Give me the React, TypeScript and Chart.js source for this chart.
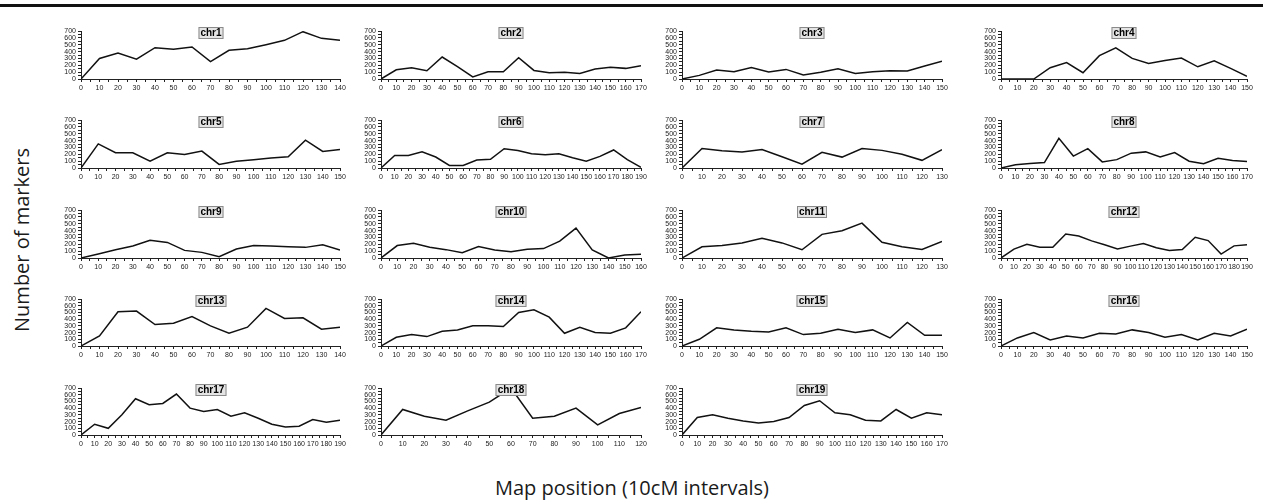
import React, { useEffect, useRef } from 'react';
import { Chart, registerables } from 'chart.js';
Chart.register(...registerables);

// Number of markers per 10cM interval, one array per chromosome
const chr1 = [0, 300, 380, 290, 457, 433, 467, 253, 418, 442, 500, 564, 690, 593, 564];
const chr2 = [0, 135, 165, 120, 320, 180, 30, 105, 105, 310, 125, 92, 100, 82, 145, 170, 155, 195];
const chr3 = [0, 53, 130, 106, 169, 101, 140, 58, 97, 150, 82, 106, 120, 116, 190, 260];
const chr4 = [0, 0, 0, 165, 240, 92, 340, 455, 300, 228, 270, 305, 178, 266, 155, 40];
const chr5 = [0, 352, 222, 222, 101, 222, 198, 246, 53, 97, 121, 145, 164, 406, 241, 270];
const chr6 = [0, 183, 183, 235, 160, 38, 38, 117, 127, 282, 254, 207, 193, 207, 150, 99, 169, 263, 122, 10];
const chr7 = [0, 285, 252, 233, 270, 163, 56, 229, 159, 285, 257, 200, 112, 266];
const chr8 = [0, 47, 66, 80, 433, 174, 282, 89, 122, 216, 235, 160, 226, 99, 61, 141, 108, 94];
const chr9 = [0, 58, 120, 174, 260, 227, 111, 82, 20, 130, 183, 174, 164, 155, 193, 116];
const chr10 = [0, 181, 216, 157, 122, 78, 167, 118, 93, 127, 137, 245, 436, 118, 0, 44, 54];
const chr11 = [0, 163, 182, 220, 288, 220, 120, 345, 398, 508, 230, 163, 125, 240];
const chr12 = [0, 130, 201, 158, 158, 350, 321, 250, 192, 130, 173, 211, 149, 110, 125, 302, 254, 58, 177, 192];
const chr13 = [0, 150, 510, 520, 320, 340, 440, 300, 190, 280, 560, 410, 420, 250, 280];
const chr14 = [0, 130, 170, 140, 220, 240, 300, 300, 290, 500, 540, 430, 190, 280, 200, 190, 270, 510];
const chr15 = [0, 100, 270, 240, 220, 210, 270, 170, 190, 250, 200, 240, 120, 350, 160, 160];
const chr16 = [0, 120, 200, 90, 150, 120, 190, 180, 240, 200, 130, 170, 90, 190, 150, 250];
const chr17 = [0, 160, 100, 300, 540, 450, 470, 610, 400, 350, 380, 280, 330, 250, 160, 120, 130, 230, 190, 220];
const chr18 = [0, 380, 280, 220, 360, 490, 700, 250, 280, 400, 150, 320, 410];
const chr19 = [0, 260, 300, 250, 210, 180, 200, 260, 440, 510, 330, 300, 220, 210, 380, 250, 330, 300];

const chromosomeNames = [
  'chr1', 'chr2', 'chr3', 'chr4', 'chr5', 'chr6', 'chr7', 'chr8', 'chr9', 'chr10',
  'chr11', 'chr12', 'chr13', 'chr14', 'chr15', 'chr16', 'chr17', 'chr18', 'chr19',
];
const chromosomeValues = [
  chr1, chr2, chr3, chr4, chr5, chr6, chr7, chr8, chr9, chr10,
  chr11, chr12, chr13, chr14, chr15, chr16, chr17, chr18, chr19,
];

const intervalCM = 10;
const yMax = 700;
const yLabelStep = 100;

const yAxisTitle = 'Number of markers';
const xAxisTitle = 'Map position (10cM intervals)';

// layout (page pixels)
const COLS = [
  { x0: 81, x1: 340 },
  { x0: 381, x1: 641 },
  { x0: 682, x1: 942 },
  { x0: 1001, x1: 1247 },
];
const ROWS = [
  { top: 31, bottom: 79 },
  { top: 120, bottom: 168 },
  { top: 210, bottom: 258 },
  { top: 299, bottom: 346 },
  { top: 388, bottom: 435 },
];
const YW = 24;
const PT = 8;
const PR = 12;
const XH = 16;

const tickFamily = '"Liberation Sans", Arial, sans-serif';

const titleBoxPlugin = {
  id: 'titleBox',
  afterDatasetsDraw(chart: any, _args: any, opts: any) {
    const { ctx, chartArea } = chart;
    const text = opts.text as string;
    if (!text) return;
    ctx.save();
    ctx.font = 'bold 10px "Liberation Sans", Arial, sans-serif';
    const w = Math.round(ctx.measureText(text).width + 4);
    const h = 12;
    const cx = Math.round((chartArea.left + chartArea.right) / 2);
    const y = Math.round(chartArea.top - 4);
    ctx.fillStyle = '#e4e4e4';
    ctx.fillRect(cx - w / 2, y, w, h);
    ctx.strokeStyle = '#8a8a8a';
    ctx.lineWidth = 1;
    ctx.strokeRect(cx - w / 2 + 0.5, y + 0.5, w - 1, h - 1);
    ctx.fillStyle = '#000';
    ctx.textAlign = 'center';
    ctx.textBaseline = 'middle';
    ctx.fillText(text, cx, y + h / 2 + 0.5);
    ctx.restore();
  },
};

function Panel({ name, values, col, row }: { name: string; values: number[]; col: number; row: number }) {
  const ref = useRef<HTMLCanvasElement | null>(null);
  const c = COLS[col];
  const r = ROWS[row];
  const plotW = c.x1 - c.x0;
  const plotH = r.bottom - r.top;
  const width = YW + plotW + PR;
  const height = PT + plotH + XH;
  const left = c.x0 - YW;
  const top = r.top - PT;

  useEffect(() => {
    if (!ref.current) return;
    const xMax = (values.length - 1) * intervalCM;
    const xTicks: number[] = [];
    for (let v = 0; v <= xMax; v += intervalCM / 2) xTicks.push(v);
    const yTicks: number[] = [];
    for (let v = 0; v <= yMax; v += yLabelStep / 2) yTicks.push(v);
    const chart = new Chart(ref.current, {
      type: 'line',
      data: {
        datasets: [
          {
            data: values.map((v, i) => ({ x: i * intervalCM, y: v })),
            borderColor: '#111',
            borderWidth: 1.5,
            pointRadius: 0,
            tension: 0,
            fill: false,
          },
        ],
      },
      options: {
        animation: false,
        responsive: false,
        maintainAspectRatio: false,
        events: [],
        layout: { padding: { top: PT, right: PR, left: 0, bottom: 0 } },
        plugins: {
          legend: { display: false },
          tooltip: { enabled: false },
          titleBox: { text: name },
        } as any,
        scales: {
          x: {
            type: 'linear',
            min: 0,
            max: xMax,
            afterBuildTicks: (s: any) => {
              s.ticks = xTicks.map((v) => ({ value: v }));
            },
            afterFit: (s: any) => {
              s.height = XH;
              s.paddingLeft = 0;
              s.paddingRight = 0;
            },
            ticks: {
              autoSkip: false,
              maxRotation: 0,
              minRotation: 0,
              padding: 2,
              color: '#222',
              font: { family: tickFamily, size: 7 },
              callback: (v: any) => (Number(v) % intervalCM === 0 ? String(v) : ''),
            },
            grid: {
              drawOnChartArea: false,
              drawTicks: true,
              tickLength: 3,
              tickColor: '#222',
            },
            border: { display: true, color: '#222', width: 1 },
          },
          y: {
            type: 'linear',
            min: 0,
            max: yMax,
            afterBuildTicks: (s: any) => {
              s.ticks = yTicks.map((v) => ({ value: v }));
            },
            afterFit: (s: any) => {
              s.width = YW;
              s.paddingTop = 0;
              s.paddingBottom = 0;
            },
            ticks: {
              autoSkip: false,
              padding: 2,
              color: '#222',
              font: { family: tickFamily, size: 7 },
              callback: (v: any) => (Number(v) % yLabelStep === 0 ? String(v) : ''),
            },
            grid: {
              drawOnChartArea: false,
              drawTicks: true,
              tickLength: 3,
              tickColor: '#222',
            },
            border: { display: true, color: '#222', width: 1 },
          },
        },
      },
      plugins: [titleBoxPlugin],
    });
    return () => chart.destroy();
  }, [name, values]);

  return (
    <canvas
      ref={ref}
      width={width}
      height={height}
      style={{ position: 'absolute', left, top, width, height }}
    />
  );
}

export default function App() {
  return (
    <div
      style={{
        position: 'absolute',
        left: 0,
        top: 0,
        width: 1263,
        height: 504,
        background: '#fff',
        overflow: 'hidden',
      }}
    >
      <div style={{ position: 'absolute', left: 0, top: 4, width: 1263, height: 3, background: '#111' }} />
      {chromosomeNames.map((name, i) => (
        <Panel key={name} name={name} values={chromosomeValues[i]} col={i % 4} row={Math.floor(i / 4)} />
      ))}
      <div
        style={{
          position: 'absolute',
          left: 22 - 150,
          top: 240 - 14,
          width: 300,
          height: 28,
          lineHeight: '28px',
          textAlign: 'center',
          transform: 'rotate(-90deg)',
          fontFamily: '"Open Sans", sans-serif',
          fontSize: 20,
          color: '#1a1a1a',
          whiteSpace: 'nowrap',
        }}
      >
        {yAxisTitle}
      </div>
      <div
        style={{
          position: 'absolute',
          left: 632 - 250,
          top: 488 - 14,
          width: 500,
          height: 28,
          lineHeight: '28px',
          textAlign: 'center',
          fontFamily: '"Open Sans", sans-serif',
          fontSize: 20,
          color: '#1a1a1a',
          whiteSpace: 'nowrap',
        }}
      >
        {xAxisTitle}
      </div>
    </div>
  );
}
